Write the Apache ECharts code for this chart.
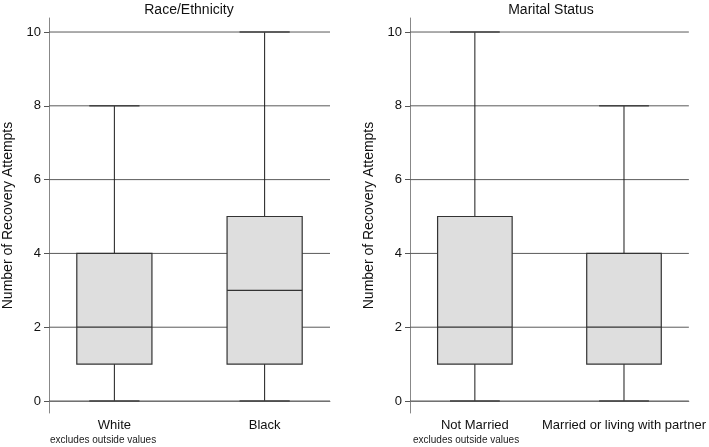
<!DOCTYPE html>
<html>
<head>
    <meta charset="utf-8">
    <title>Recovery Attempts</title>
    <style>
        html, body { margin: 0; padding: 0; background: #fff; }
        #main { width: 709px; height: 447px; }
    </style>
</head>
<body>
<div id="main"></div>
<script src="https://cdn.jsdelivr.net/npm/echarts/dist/echarts.min.js"></script>
<script>
    // data: [position, min, q1, median, q3, max]
    var raceNames = ['White', 'Black'];
    var raceBoxes = [
        [1, 0, 1, 2, 4, 8],
        [2, 0, 1, 3, 5, 10]
    ];
    var maritalNames = ['Not Married', 'Married or living with partner'];
    var maritalBoxes = [
        [1, 0, 1, 2, 5, 10],
        [2, 0, 1, 2, 4, 8]
    ];
    var yTicks = [0, 2, 4, 6, 8, 10];
    var panelTitles = ['Race/Ethnicity', 'Marital Status'];
    var yTitle = 'Number of Recovery Attempts';
    var noteText = 'excludes outside values';

    var FONT = '"Liberation Sans", Arial, Helvetica, sans-serif';
    var myChart = echarts.init(document.getElementById('main'));

    // horizontal grid lines at the tick values
    function renderGrid(params, api) {
        var cs = params.coordSys;
        var p = api.coord([1, api.value(0)]);
        return {
            type: 'line',
            shape: {x1: cs.x, y1: p[1], x2: cs.x + cs.width, y2: p[1]},
            style: {stroke: '#5a5a5a', lineWidth: 1}
        };
    }

    // one box with whiskers and short caps
    function renderBox(params, api) {
        var x = api.value(0);
        var pMin = api.coord([x, api.value(1)]);
        var pQ1 = api.coord([x, api.value(2)]);
        var pMed = api.coord([x, api.value(3)]);
        var pQ3 = api.coord([x, api.value(4)]);
        var pMax = api.coord([x, api.value(5)]);
        var half = api.size([0.25, 0])[0];
        var cap = api.size([0.167, 0])[0];
        var cx = pMed[0];
        var whisker = {stroke: '#1a1a1a', lineWidth: 1};
        var capStyle = {stroke: '#444', lineWidth: 1.6};
        return {
            type: 'group',
            children: [
                {type: 'line', shape: {x1: cx, y1: pQ3[1], x2: cx, y2: pMax[1]}, style: whisker},
                {type: 'line', shape: {x1: cx, y1: pMin[1], x2: cx, y2: pQ1[1]}, style: whisker},
                {type: 'line', shape: {x1: cx - cap, y1: pMax[1], x2: cx + cap, y2: pMax[1]}, style: capStyle},
                {type: 'line', shape: {x1: cx - cap, y1: pMin[1], x2: cx + cap, y2: pMin[1]}, style: capStyle},
                {type: 'rect', shape: {x: cx - half, y: pQ3[1], width: half * 2, height: pQ1[1] - pQ3[1]},
                    style: {fill: '#dedede', stroke: '#333', lineWidth: 1.2}},
                {type: 'line', shape: {x1: cx - half, y1: pMed[1], x2: cx + half, y2: pMed[1]},
                    style: {stroke: '#333', lineWidth: 1.2}}
            ]
        };
    }

    function xAxisFor(idx, names) {
        return {
            gridIndex: idx,
            type: 'value',
            min: 0.565,
            max: 2.435,
            splitLine: {show: false},
            axisTick: {show: false},
            axisLine: {lineStyle: {color: '#888', width: 1}},
            axisLabel: {
                customValues: [1, 2],
                margin: 6,
                color: '#111',
                fontSize: 13,
                fontFamily: FONT,
                formatter: function (v) { return names[Math.round(v) - 1]; }
            }
        };
    }

    function yAxisFor(idx) {
        return {
            gridIndex: idx,
            type: 'value',
            min: -0.325,
            max: 10.38,
            name: yTitle,
            nameLocation: 'middle',
            nameRotate: 90,
            nameGap: 34,
            nameTextStyle: {color: '#111', fontSize: 14, fontFamily: FONT},
            splitLine: {show: false},
            axisLine: {show: true, lineStyle: {color: '#888', width: 1}},
            axisTick: {show: true, customValues: yTicks, length: 5, lineStyle: {color: '#555'}},
            axisLabel: {
                customValues: yTicks,
                margin: 8,
                color: '#111',
                fontSize: 13,
                fontFamily: FONT
            }
        };
    }

    function titleText(x, text) {
        return {type: 'text', x: x, y: 3,
            style: {text: text, textAlign: 'center', fill: '#111', font: '14px ' + FONT}};
    }

    myChart.setOption({
        animation: false,
        graphic: [
            titleText(189, panelTitles[0]),
            titleText(551, panelTitles[1]),
            {type: 'text', left: 50, top: 435, style: {text: noteText, fill: '#222', font: '10px ' + FONT}},
            {type: 'text', left: 413, top: 435, style: {text: noteText, fill: '#222', font: '10px ' + FONT}}
        ],
        grid: [
            {left: 48, right: 379, top: 18, bottom: 34},
            {left: 410, right: 17, top: 18, bottom: 34}
        ],
        xAxis: [xAxisFor(0, raceNames), xAxisFor(1, maritalNames)],
        yAxis: [yAxisFor(0), yAxisFor(1)],
        series: [
            {type: 'custom', xAxisIndex: 0, yAxisIndex: 0, z: 1, silent: true,
                renderItem: renderGrid, data: yTicks.map(function (t) { return [t]; })},
            {type: 'custom', xAxisIndex: 1, yAxisIndex: 1, z: 1, silent: true,
                renderItem: renderGrid, data: yTicks.map(function (t) { return [t]; })},
            {type: 'custom', xAxisIndex: 0, yAxisIndex: 0, z: 3,
                renderItem: renderBox, encode: {x: 0, y: [1, 2, 3, 4, 5]}, data: raceBoxes},
            {type: 'custom', xAxisIndex: 1, yAxisIndex: 1, z: 3,
                renderItem: renderBox, encode: {x: 0, y: [1, 2, 3, 4, 5]}, data: maritalBoxes}
        ]
    });
</script>
</body>
</html>
